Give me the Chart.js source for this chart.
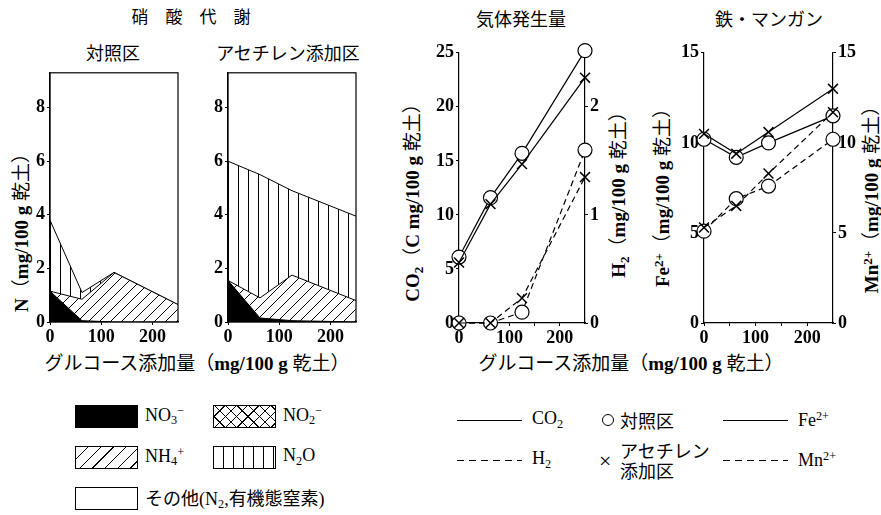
<!DOCTYPE html>
<html>
<head>
<meta charset="utf-8">
<script src="https://cdn.jsdelivr.net/npm/chart.js@4.4.1/dist/chart.umd.min.js"></script>
<style>
body { margin: 0; background: #fff; }
#wrap { position: relative; width: 881px; height: 515px; overflow: hidden; color: #000;
        font-family: 'Liberation Serif', 'Noto Sans CJK JP', serif; }
.t { position: absolute; white-space: nowrap; transform: translate(-50%, -50%); font-size: 17px; }
.r { position: absolute; white-space: nowrap; transform: translate(-50%, -50%) rotate(-90deg); font-size: 19px; }
.lab { position: absolute; white-space: nowrap; transform: translateY(-50%); font-size: 18px; }
.sw { position: absolute; width: 63px; height: 23px; border: 1.2px solid #000; box-sizing: border-box; }
.ln { position: absolute; width: 65px; height: 1.4px; background: #000; }
.dash { background: repeating-linear-gradient(90deg, #000 0 7px, transparent 7px 12px); }
canvas { position: absolute; }
b { font-weight: bold; }
.sb { font-size: 0.68em; vertical-align: -0.25em; }
.sp { font-size: 0.68em; vertical-align: 0.45em; }
</style>
</head>
<body>
<div id="wrap">
  <div class="t" style="left:191px;top:15px">硝　酸　代　謝</div>
  <div class="t" style="left:113px;top:52px;font-size:18px">対照区</div>
  <div class="t" style="left:288px;top:52px;font-size:18px">アセチレン添加区</div>
  <div class="t" style="left:521px;top:18px;font-size:18px">気体発生量</div>
  <div class="t" style="left:769px;top:18px;font-size:18px">鉄・マンガン</div>

  <div class="r" style="left:19px;top:228px"><b>N</b>（<b>mg/100 g</b> 乾土）</div>
  <div class="r" style="left:412px;top:198px"><b>CO<span class="sb">2</span></b>（<b>C mg/100 g</b> 乾土）</div>
  <div class="r" style="left:618px;top:190px"><b>H<span class="sb">2</span></b>（<b>mg/100 g</b> 乾土）</div>
  <div class="r" style="left:660px;top:193px"><b>Fe<span class="sp">2+</span></b>（<b>mg/100 g</b> 乾土）</div>
  <div class="r" style="left:869px;top:195px"><b>Mn<span class="sp">2+</span></b>（<b>mg/100 g</b> 乾土）</div>

  <div class="t" style="left:197px;top:361px;font-size:19px">グルコース添加量（<b>mg/100 g</b> 乾土）</div>
  <div class="t" style="left:631px;top:361px;font-size:19px">グルコース添加量（<b>mg/100 g</b> 乾土）</div>

  <canvas id="p1" width="165" height="285" style="left:20px;top:60px"></canvas>
  <canvas id="p2" width="165" height="285" style="left:198px;top:60px"></canvas>
  <canvas id="p3" width="181" height="305" style="left:429px;top:40px"></canvas>
  <canvas id="p4" width="189" height="305" style="left:674px;top:40px"></canvas>

  <!-- legend: nitrogen forms -->
  <div class="sw" style="left:75px;top:405px;background:#000"></div>
  <div class="lab" style="left:145px;top:416px">NO<span class="sb">3</span><span class="sp">−</span></div>
  <div class="sw" style="left:213px;top:405px;background:repeating-linear-gradient(45deg,transparent 0 7px,#000 7px 8px),repeating-linear-gradient(135deg,#fff 0 7px,#000 7px 8px)"></div>
  <div class="lab" style="left:283px;top:416px">NO<span class="sb">2</span><span class="sp">−</span></div>
  <div class="sw" style="left:75px;top:446px;background:repeating-linear-gradient(135deg,#fff 0 8px,#000 8px 9px)"></div>
  <div class="lab" style="left:145px;top:457px">NH<span class="sb">4</span><span class="sp">+</span></div>
  <div class="sw" style="left:213px;top:446px;background:repeating-linear-gradient(90deg,#fff 0 9px,#000 9px 10px)"></div>
  <div class="lab" style="left:283px;top:457px">N<span class="sb">2</span>O</div>
  <div class="sw" style="left:75px;top:487px;background:#fff"></div>
  <div class="lab" style="left:145px;top:498px">その他(N<span class="sb">2</span>,有機態窒素)</div>

  <!-- legend: gases / metals -->
  <div class="ln" style="left:457px;top:420px"></div>
  <div class="lab" style="left:532px;top:420px">CO<span class="sb">2</span></div>
  <div class="ln dash" style="left:457px;top:460px"></div>
  <div class="lab" style="left:532px;top:460px">H<span class="sb">2</span></div>
  <div style="position:absolute;left:602px;top:414px;width:12px;height:12px;border:1.4px solid #000;border-radius:50%;box-sizing:border-box"></div>
  <div class="lab" style="left:620px;top:420px">対照区</div>
  <div class="lab" style="left:599px;top:461px;font-size:22px">×</div>
  <div class="lab" style="left:620px;top:450px">アセチレン</div>
  <div class="lab" style="left:620px;top:470px">添加区</div>
  <div class="ln" style="left:723px;top:420px"></div>
  <div class="lab" style="left:798px;top:420px">Fe<span class="sp">2+</span></div>
  <div class="ln dash" style="left:723px;top:460px"></div>
  <div class="lab" style="left:798px;top:460px">Mn<span class="sp">2+</span></div>
</div>

<script>
// glucose added (mg/100 g dry soil)
const glucose = [0, 62.5, 125, 250];
const xLabels = [0, 100, 200];
const xMinor = [0, 50, 100, 150, 200];
const nTicks = [0, 2, 4, 6, 8];
const co2Ticks = [0, 5, 10, 15, 20, 25];
const h2Ticks = [0, 1, 2];
const metalTicks = [0, 5, 10, 15];

// 硝酸代謝 (mg N/100 g), stacked components
const ctlNO3 = [1.15, 0.05, 0, 0];
const ctlNH4 = [0, 0.8, 1.85, 0.65];
const ctlN2O = [2.65, 0.25, 0, 0];
const acNO3 = [1.55, 0.15, 0.05, 0];
const acNH4 = [0, 0.75, 1.7, 0.8];
const acN2O = [4.45, 4.6, 3.15, 3.15];

// 気体発生量
const co2Ctl = [6.1, 11.6, 15.7, 25.2];
const co2Ac = [5.6, 11.0, 14.7, 22.7];
const h2Ctl = [0, 0, 0.1, 1.6];
const h2Ac = [0, 0, 0.23, 1.35];

// 鉄・マンガン
const feCtl = [10.2, 9.2, 10.0, 11.5];
const feAc = [10.5, 9.4, 10.6, 13.0];
const mnCtl = [5.1, 6.9, 7.6, 10.2];
const mnAc = [5.3, 6.5, 8.3, 11.7];

const pts = arr => arr.map((v, i) => ({ x: glucose[i], y: v }));
const tickFont = { family: 'Liberation Serif', size: 18, weight: 'bold' };

function pattern(kind, s) {
  const c = document.createElement('canvas');
  c.width = s; c.height = s;
  const g = c.getContext('2d');
  g.fillStyle = '#fff';
  g.fillRect(0, 0, s, s);
  g.strokeStyle = '#000';
  g.lineWidth = 1;
  g.beginPath();
  if (kind === 'diag') {
    g.moveTo(0, s); g.lineTo(s, 0);
    g.moveTo(-1, 1); g.lineTo(1, -1);
    g.moveTo(s - 1, s + 1); g.lineTo(s + 1, s - 1);
  } else {
    g.moveTo(0.5, 0); g.lineTo(0.5, s);
  }
  g.stroke();
  return g.createPattern(c, 'repeat');
}

const framePlugin = {
  id: 'frame',
  afterDatasetsDraw(chart) {
    const { ctx, chartArea: a } = chart;
    ctx.save();
    ctx.strokeStyle = '#000';
    ctx.lineWidth = 1.2;
    ctx.strokeRect(a.left, a.top, a.right - a.left, a.bottom - a.top);
    ctx.restore();
  }
};

function axis(extra, ticks, size) {
  return Object.assign({
    type: 'linear',
    afterBuildTicks: s => { s.ticks = ticks.map(v => ({ value: v })); },
    grid: { drawOnChartArea: false, tickLength: 3, color: '#000' },
    border: { display: true, color: '#000', width: 1.2 },
    ticks: { font: tickFont, color: '#000', padding: 2, maxRotation: 0, autoSkip: false }
  }, extra, size);
}

function nitrogenChart(id, no3, nh4, n2o) {
  const area = (label, data, bg, fill) => ({
    label, data: pts(data), backgroundColor: bg, fill,
    borderColor: '#000', borderWidth: 1, pointRadius: 0, tension: 0
  });
  new Chart(document.getElementById(id), {
    type: 'line',
    data: {
      datasets: [
        area('NO3-', no3, '#000', 'origin'),
        area('NH4+', nh4, pattern('diag', 11), '-1'),
        area('N2O', n2o, pattern('vert', 10), '-1')
      ]
    },
    options: {
      responsive: false, animation: false, devicePixelRatio: 1,
      layout: { padding: { left: 5, top: 7, right: 7, bottom: 0 } },
      plugins: { legend: { display: false }, tooltip: { enabled: false } },
      scales: {
        x: axis({ min: 0, max: 250 }, xLabels, { afterFit: s => { s.height = 23; } }),
        y: axis({ min: 0, max: 9.3, stacked: true }, nTicks, { afterFit: s => { s.width = 25; } })
      }
    },
    plugins: [framePlugin]
  });
}

nitrogenChart('p1', ctlNO3, ctlNH4, ctlN2O);
nitrogenChart('p2', acNO3, acNH4, acN2O);

function series(label, data, axisId, style, dashed) {
  return {
    label, data: pts(data), yAxisID: axisId,
    borderColor: '#000', borderWidth: 1.2, borderDash: dashed ? [6, 4] : [],
    pointStyle: style, pointRadius: 7, pointBorderWidth: style === 'circle' ? 1.2 : 1.5,
    pointBackgroundColor: '#fff', pointBorderColor: '#000',
    fill: false, tension: 0, clip: false
  };
}

function pairChart(id, left, right, leftMax, rightMax, leftTicks, rightTicks, rightW) {
  new Chart(document.getElementById(id), {
    type: 'line',
    data: {
      datasets: [
        series(left[0] + ' acetylene', left[2], 'y', 'crossRot', false),
        series(right[0] + ' acetylene', right[2], 'y1', 'crossRot', true),
        series(left[0] + ' control', left[1], 'y', 'circle', false),
        series(right[0] + ' control', right[1], 'y1', 'circle', true)
      ]
    },
    options: {
      responsive: false, animation: false, devicePixelRatio: 1,
      layout: { padding: { left: 5, top: 10, right: 5, bottom: 0 } },
      plugins: { legend: { display: false }, tooltip: { enabled: false } },
      scales: {
        x: axis({ min: 0, max: 250 }, xMinor, {
          afterFit: s => { s.height = 22; },
          ticks: { font: tickFont, color: '#000', padding: 2, maxRotation: 0, autoSkip: false,
                   callback: v => (xLabels.includes(v) ? String(v) : '') }
        }),
        y: axis({ min: 0, max: leftMax, position: 'left' }, leftTicks, { afterFit: s => { s.width = 25; } }),
        y1: axis({ min: 0, max: rightMax, position: 'right' }, rightTicks, { afterFit: s => { s.width = rightW; } })
      }
    }
  });
}

pairChart('p3', ['CO2', co2Ctl, co2Ac], ['H2', h2Ctl, h2Ac], 25, 2.5, co2Ticks, h2Ticks, 20);
pairChart('p4', ['Fe2+', feCtl, feAc], ['Mn2+', mnCtl, mnAc], 15, 15, metalTicks, metalTicks, 25);
</script>
</body>
</html>
